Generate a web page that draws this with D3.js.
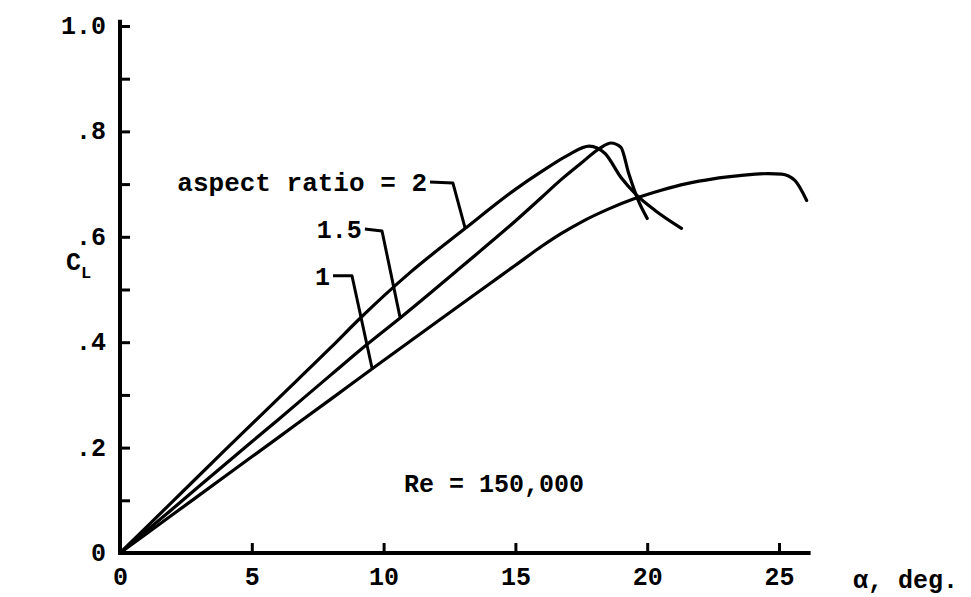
<!DOCTYPE html>
<html>
<head>
<meta charset="utf-8">
<script src="https://cdn.jsdelivr.net/npm/d3@7"></script>
<style>
  html, body { margin: 0; padding: 0; background: #fff; }
  svg { display: block; }
  text { font-family: "Liberation Mono", "DejaVu Sans Mono", monospace; font-weight: bold; fill: #000; }
</style>
</head>
<body>
<svg id="chart" width="971" height="597"></svg>
<script>
// Lift coefficient vs angle of attack, three aspect ratios, Re = 150,000
const alphaTicks = [0, 5, 10, 15, 20, 25];
const clTicks = [0, 0.1, 0.2, 0.3, 0.4, 0.5, 0.6, 0.7, 0.8, 0.9, 1.0];
const clTickLabels = ["0", "", ".2", "", ".4", "", ".6", "", ".8", "", "1.0"];

const ar2Alpha = [0, 2, 4, 6, 8, 9.1, 11, 13.1, 15, 16, 17, 17.8, 18.4, 19.0, 19.6, 20.3, 21.3];
const ar2CL    = [0, 0.098, 0.196, 0.293, 0.39, 0.445, 0.532, 0.616, 0.69, 0.724, 0.755, 0.772, 0.758, 0.713, 0.679, 0.650, 0.616];

const ar15Alpha = [0, 2, 4, 6, 8, 9.4, 10.65, 13, 15, 16, 16.7, 17.5, 18.2, 18.63, 19.0, 19.3, 19.66, 20.0];
const ar15CL    = [0, 0.084, 0.169, 0.253, 0.338, 0.397, 0.447, 0.545, 0.63, 0.675, 0.707, 0.74, 0.768, 0.778, 0.77, 0.72, 0.669, 0.635];

const ar1Alpha = [0, 2, 4, 6, 8, 9.58, 12, 14, 15, 16, 16.7, 17.5, 18.5, 19.5, 20.5, 21.5, 22.5, 23.5, 24.6, 25.1, 25.6, 26.05];
const ar1CL    = [0, 0.073, 0.146, 0.219, 0.292, 0.35, 0.438, 0.51, 0.546, 0.582, 0.605, 0.628, 0.652, 0.672, 0.688, 0.701, 0.71, 0.716, 0.72, 0.719, 0.707, 0.669];

const seriesNames = ["aspect ratio = 2", "1.5", "1"];
const seriesAlpha = [ar2Alpha, ar15Alpha, ar1Alpha];
const seriesCL = [ar2CL, ar15CL, ar1CL];

// leader lines from each label to its curve (alpha, CL)
const leaderAlpha = [[11.76, 12.63, 13.09], [9.29, 9.94, 10.62], [8.08, 8.80, 9.56]];
const leaderCL    = [[0.704, 0.702, 0.617], [0.615, 0.611, 0.448], [0.526, 0.526, 0.351]];

const svg = d3.select("#chart");
const x = d3.scaleLinear().domain([0, 25]).range([120, 779]);
const y = d3.scaleLinear().domain([0, 1]).range([553, 26]);

// axes lines
svg.append("line")
  .attr("x1", x(0)).attr("x2", x(26.2))
  .attr("y1", y(0)).attr("y2", y(0))
  .attr("stroke", "#000").attr("stroke-width", 4);
svg.append("line")
  .attr("x1", x(0)).attr("x2", x(0))
  .attr("y1", y(0) + 2).attr("y2", y(1.012))
  .attr("stroke", "#000").attr("stroke-width", 4);

// y ticks point inward, labels every 0.2
const yAxis = d3.axisLeft(y)
  .tickValues(clTicks)
  .tickSizeInner(-10)
  .tickSizeOuter(0)
  .tickPadding(14)
  .tickFormat((d, i) => clTickLabels[i]);
const gy = svg.append("g").attr("transform", `translate(${x(0)},0)`).call(yAxis);
gy.select(".domain").remove();
gy.selectAll(".tick line").attr("stroke", "#000").attr("stroke-width", 3);
gy.selectAll(".tick text").attr("font-size", 25).attr("font-family", null).attr("dy", "0.3em");

// x ticks point inward
const xAxis = d3.axisBottom(x)
  .tickValues(alphaTicks)
  .tickSizeInner(-10)
  .tickSizeOuter(0)
  .tickPadding(13)
  .tickFormat(d3.format("d"));
const gx = svg.append("g").attr("transform", `translate(0,${y(0)})`).call(xAxis);
gx.select(".domain").remove();
gx.selectAll(".tick line").attr("stroke", "#000").attr("stroke-width", 3)
  .filter(d => d === 0).remove();
gx.selectAll(".tick text").attr("font-size", 25).attr("font-family", null).attr("dy", "0.75em");

// curves
const line = d3.line()
  .x(d => x(d[0]))
  .y(d => y(d[1]))
  .curve(d3.curveMonotoneX);

seriesAlpha.forEach((al, s) => {
  const pts = al.map((a, i) => [a, seriesCL[s][i]]);
  svg.append("path")
    .attr("d", line(pts))
    .attr("fill", "none")
    .attr("stroke", "#000")
    .attr("stroke-width", 3.2)
    .attr("stroke-linejoin", "round")
    .attr("stroke-linecap", "round");
});

// leaders and labels
const leaderLine = d3.line().x(d => x(d[0])).y(d => y(d[1]));
const labelSize = [26, 25, 25];
leaderAlpha.forEach((al, s) => {
  const pts = al.map((a, i) => [a, leaderCL[s][i]]);
  svg.append("path")
    .attr("d", leaderLine(pts))
    .attr("fill", "none")
    .attr("stroke", "#000")
    .attr("stroke-width", 3)
    .attr("stroke-linejoin", "round");
  svg.append("text")
    .attr("x", x(al[0]) - 3)
    .attr("y", y(leaderCL[s][0]) + 9)
    .attr("text-anchor", "end")
    .attr("font-size", labelSize[s])
    .text(seriesNames[s]);
});

// annotations
svg.append("text")
  .attr("x", 404).attr("y", 492)
  .attr("font-size", 25)
  .text("Re = 150,000");

const cl = svg.append("text").attr("x", 66).attr("y", 270).attr("font-size", 25);
cl.append("tspan").text("C");
cl.append("tspan").attr("font-size", 17).attr("dy", 8).text("L");

svg.append("text")
  .attr("x", 853).attr("y", 588)
  .attr("font-size", 25)
  .text("α, deg.");
</script>
</body>
</html>
